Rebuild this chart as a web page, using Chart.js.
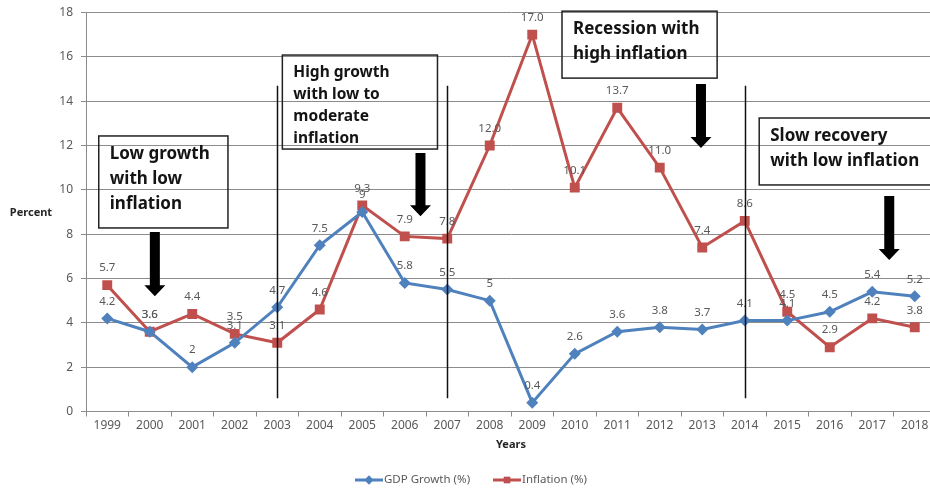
<!DOCTYPE html>
<html lang="en">
<head>
  <meta charset="UTF-8">
  <title>GDP Growth and Inflation, 1999-2018</title>
  <script src="https://cdn.jsdelivr.net/npm/chart.js"></script>
  <style>
    html, body {
      margin: 0;
      padding: 0;
      background: #fff;
      overflow: hidden;
    }
    canvas { display: block; }
  </style>
</head>
<body>

<canvas id="cvs" width="943" height="489"></canvas>

<script>
const years = ['1999','2000','2001','2002','2003','2004','2005','2006','2007','2008',
               '2009','2010','2011','2012','2013','2014','2015','2016','2017','2018'];
const gdpGrowth = [4.2, 3.6, 2, 3.1, 4.7, 7.5, 9, 5.8, 5.5, 5, 0.4, 2.6, 3.6, 3.8, 3.7, 4.1, 4.1, 4.5, 5.4, 5.2];
const inflation = [5.7, 3.6, 4.4, 3.5, 3.1, 4.6, 9.3, 7.9, 7.8, 12.0, 17.0, 10.1, 13.7, 11.0, 7.4, 8.6, 4.5, 2.9, 4.2, 3.8];
const yTicks = [0, 2, 4, 6, 8, 10, 12, 14, 16, 18];

// period dividers (category index) and the phase notes, in axis units
const dividers = [4, 8, 15];
const notes = [
  { x0: -0.2, x1: 2.84, y0: 12.43, y1: 8.28, size: 17, gap: 25, lines: ['Low growth', 'with low', 'inflation'] },
  { x0: 4.12, x1: 7.77, y0: 16.08, y1: 11.84, size: 15.5, gap: 22, lines: ['High growth', 'with low to', 'moderate', 'inflation'] },
  { x0: 10.70, x1: 14.35, y0: 18.06, y1: 15.04, size: 17, gap: 25, lines: ['Recession with', 'high inflation'] },
  { x0: 15.34, x1: 19.6, y0: 13.24, y1: 10.22, size: 17, gap: 25, lines: ['Slow recovery', 'with low inflation'] }
];
const arrows = [
  { x: 1.12, top: 8.1, tip: 5.2 },
  { x: 7.37, top: 11.66, tip: 8.81 },
  { x: 13.97, top: 14.77, tip: 11.89 },
  { x: 18.4, top: 9.72, tip: 6.83 }
];

const BLUE = '#4F81BD';
const RED = '#C0504D';
const GRID = '#8c8c8c';
const TXT = '#595959';
const FONT = "'Noto Sans', sans-serif";

Chart.defaults.font.family = FONT;

// value labels above each point
const pointLabels = {
  id: 'pointLabels',
  afterDatasetsDraw(chart) {
    const ctx = chart.ctx;
    ctx.save();
    ctx.font = '11.5px ' + FONT;
    ctx.fillStyle = TXT;
    ctx.textAlign = 'center';
    ctx.textBaseline = 'middle';
    chart.data.datasets.forEach((ds, i) => {
      chart.getDatasetMeta(i).data.forEach((pt, j) => {
        const v = ds.data[j];
        const txt = ds.fixed ? v.toFixed(1) : String(v);
        ctx.fillText(txt, pt.x, pt.y - 17);
      });
    });
    ctx.restore();
  }
};

// dividers, note boxes, arrows, axis titles and legend
const extras = {
  id: 'extras',
  afterDraw(chart) {
    const ctx = chart.ctx;
    const xs = chart.scales.x, ys = chart.scales.y;
    ctx.save();

    ctx.strokeStyle = '#111';
    ctx.lineWidth = 1.5;
    dividers.forEach(i => {
      const px = Math.round(xs.getPixelForValue(i)) + 0.5;
      ctx.beginPath();
      ctx.moveTo(px, ys.getPixelForValue(14.7));
      ctx.lineTo(px, ys.getPixelForValue(0.6));
      ctx.stroke();
    });

    notes.forEach(n => {
      const l = xs.getPixelForValue(n.x0), r = xs.getPixelForValue(n.x1);
      const t = ys.getPixelForValue(n.y0), b = ys.getPixelForValue(n.y1);
      ctx.strokeStyle = '#222';
      ctx.lineWidth = 1.5;
      ctx.strokeRect(l, t, r - l, b - t);
      ctx.fillStyle = '#141414';
      ctx.font = 'bold ' + n.size + 'px ' + FONT;
      ctx.textAlign = 'left';
      ctx.textBaseline = 'middle';
      n.lines.forEach((s, k) => ctx.fillText(s, l + 11, t + 18 + k * n.gap));
    });

    ctx.fillStyle = '#000';
    arrows.forEach(a => {
      const cx = xs.getPixelForValue(a.x);
      const top = ys.getPixelForValue(a.top), tip = ys.getPixelForValue(a.tip);
      const head = 11;
      ctx.beginPath();
      ctx.moveTo(cx - 5, top);
      ctx.lineTo(cx + 5, top);
      ctx.lineTo(cx + 5, tip - head);
      ctx.lineTo(cx + 10.5, tip - head);
      ctx.lineTo(cx, tip);
      ctx.lineTo(cx - 10.5, tip - head);
      ctx.lineTo(cx - 5, tip - head);
      ctx.closePath();
      ctx.fill();
    });

    // axis titles
    ctx.fillStyle = '#262626';
    ctx.font = 'bold 11px ' + FONT;
    ctx.textAlign = 'center';
    ctx.textBaseline = 'middle';
    ctx.fillText('Percent', 31, 213);
    ctx.fillText('Years', 511, 445);

    // legend
    const items = [
      { label: 'GDP Growth (%)', color: BLUE, style: 'rectRot', x: 355 },
      { label: 'Inflation (%)', color: RED, style: 'rect', x: 493 }
    ];
    const ly = 480;
    ctx.font = '11.5px ' + FONT;
    ctx.textAlign = 'left';
    items.forEach(it => {
      ctx.strokeStyle = it.color;
      ctx.lineWidth = 3;
      ctx.beginPath();
      ctx.moveTo(it.x, ly);
      ctx.lineTo(it.x + 28, ly);
      ctx.stroke();
      ctx.fillStyle = it.color;
      Chart.helpers.drawPoint(ctx, { pointStyle: it.style, radius: 4.5, rotation: 0, borderWidth: 0 }, it.x + 14, ly);
      ctx.fill();
      ctx.fillStyle = TXT;
      ctx.fillText(it.label, it.x + 29, ly);
    });

    ctx.restore();
  }
};

new Chart(document.getElementById('cvs'), {
  type: 'line',
  data: {
    labels: years,
    datasets: [
      {
        label: 'GDP Growth (%)',
        data: gdpGrowth,
        borderColor: BLUE,
        backgroundColor: BLUE,
        borderWidth: 3,
        pointStyle: 'rectRot',
        pointRadius: 6,
        pointBorderWidth: 0,
        tension: 0,
        fixed: false
      },
      {
        label: 'Inflation (%)',
        data: inflation,
        borderColor: RED,
        backgroundColor: RED,
        borderWidth: 3,
        pointStyle: 'rect',
        pointRadius: 7,
        pointBorderWidth: 0,
        tension: 0,
        fixed: true
      }
    ]
  },
  options: {
    responsive: false,
    animation: false,
    layout: { padding: { top: 12.5, right: 1, left: 0, bottom: 0 } },
    plugins: {
      legend: { display: false },
      tooltip: { enabled: false }
    },
    scales: {
      x: {
        offset: true,
        grid: { drawOnChartArea: false, offset: true, tickLength: 5, color: GRID },
        border: { color: GRID },
        ticks: { color: TXT, font: { size: 12 }, padding: 2, maxRotation: 0, autoSkip: false },
        afterFit(scale) { scale.height = 77.5; }
      },
      y: {
        min: yTicks[0],
        max: yTicks[yTicks.length - 1],
        afterBuildTicks(scale) { scale.ticks = yTicks.map(v => ({ value: v })); },
        grid: { color: GRID, tickLength: 5 },
        border: { color: GRID },
        ticks: { color: TXT, font: { size: 12 }, padding: 8 },
        afterFit(scale) {
          scale.width = 86;
          scale.paddingTop = 0;
          scale.paddingBottom = 0;
        }
      }
    }
  },
  plugins: [pointLabels, extras]
});
</script>

</body>
</html>
